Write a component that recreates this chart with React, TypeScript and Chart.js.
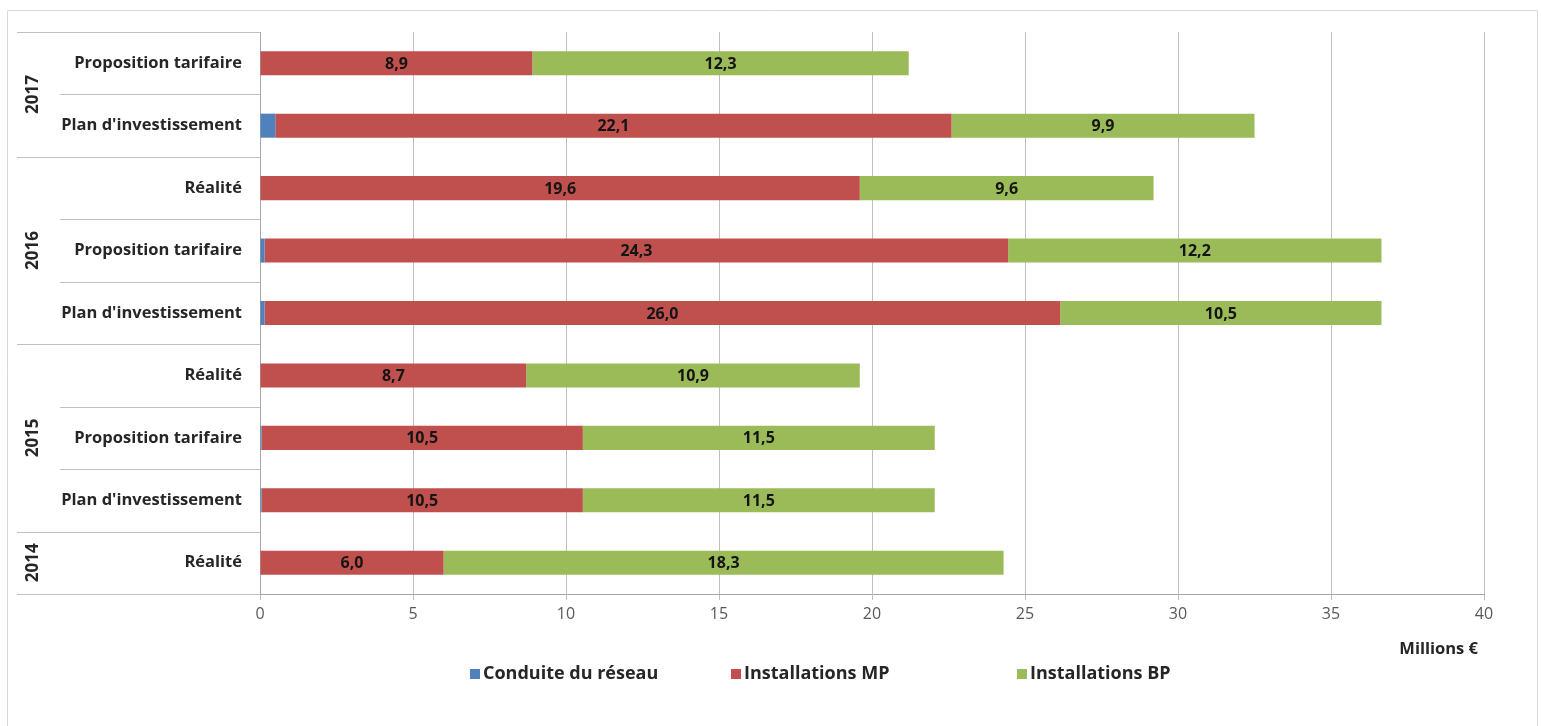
import React, { useEffect, useRef } from "react";
import { Chart, registerables } from "chart.js";

Chart.register(...registerables);

// ---- Data ----
const categories = [
  "Proposition tarifaire",
  "Plan d'investissement",
  "Réalité",
  "Proposition tarifaire",
  "Plan d'investissement",
  "Réalité",
  "Proposition tarifaire",
  "Plan d'investissement",
  "Réalité",
];
const years = ["2017", "2017", "2016", "2016", "2016", "2015", "2015", "2015", "2014"];
const conduiteReseau = [0, 0.5, 0, 0.15, 0.15, 0, 0.05, 0.05, 0];
const installationsMP = [8.9, 22.1, 19.6, 24.3, 26.0, 8.7, 10.5, 10.5, 6.0];
const installationsBP = [12.3, 9.9, 9.6, 12.2, 10.5, 10.9, 11.5, 11.5, 18.3];
const seriesNames = ["Conduite du réseau", "Installations MP", "Installations BP"];
const seriesColors = ["#4F81BD", "#C0504D", "#9BBB59"];
const xMin = 0;
const xMax = 40;
const xStep = 5;
const xTitle = "Millions €";

const FONT = "'Open Sans', Lato, 'DejaVu Sans', sans-serif";
const GRID = "#BFBFBF";
const AXIS = "#A6A6A6";

const framePlugin = {
  id: "frame",
  beforeDraw(chart: any) {
    const ctx = chart.ctx;
    ctx.save();
    ctx.fillStyle = "#ffffff";
    ctx.fillRect(0, 0, chart.width, chart.height);
    ctx.strokeStyle = "#D9D9D9";
    ctx.lineWidth = 1;
    ctx.beginPath();
    ctx.moveTo(7.5, chart.height);
    ctx.lineTo(7.5, 10.5);
    ctx.lineTo(1537.5, 10.5);
    ctx.lineTo(1537.5, chart.height);
    ctx.stroke();
    ctx.restore();
  },
};

const groupPlugin = {
  id: "groups",
  afterDraw(chart: any) {
    const ctx = chart.ctx;
    const y = chart.scales.y;
    const area = chart.chartArea;
    const outerLeft = 17;
    const innerLeft = 60;
    const right = area.left;
    ctx.save();
    ctx.strokeStyle = GRID;
    ctx.lineWidth = 1;
    const hline = (x0: number, yy: number) => {
      const py = Math.round(yy) + 0.5;
      ctx.beginPath();
      ctx.moveTo(x0, py);
      ctx.lineTo(right, py);
      ctx.stroke();
    };
    hline(outerLeft, area.top);
    hline(outerLeft, area.bottom);
    for (let i = 0; i < categories.length - 1; i++) {
      const yb = (y.getPixelForValue(i) + y.getPixelForValue(i + 1)) / 2;
      hline(years[i] !== years[i + 1] ? outerLeft : innerLeft, yb);
    }
    // year labels
    ctx.fillStyle = "#262626";
    ctx.font = `bold 17px ${FONT}`;
    ctx.textAlign = "center";
    ctx.textBaseline = "middle";
    let start = 0;
    for (let i = 1; i <= years.length; i++) {
      if (i === years.length || years[i] !== years[start]) {
        const cy = (y.getPixelForValue(start) + y.getPixelForValue(i - 1)) / 2;
        ctx.save();
        ctx.translate(33, cy);
        ctx.rotate(-Math.PI / 2);
        ctx.fillText(years[start], 0, 0);
        ctx.restore();
        start = i;
      }
    }
    // axis title
    ctx.font = `bold 16.5px ${FONT}`;
    ctx.textAlign = "right";
    ctx.fillText(xTitle, area.right - 6, 649);
    ctx.restore();
  },
};

const labelPlugin = {
  id: "barLabels",
  afterDatasetsDraw(chart: any) {
    const ctx = chart.ctx;
    ctx.save();
    ctx.font = `bold 16px ${FONT}`;
    ctx.fillStyle = "#141414";
    ctx.textAlign = "center";
    ctx.textBaseline = "middle";
    [1, 2].forEach((di) => {
      const meta = chart.getDatasetMeta(di);
      meta.data.forEach((bar: any, i: number) => {
        const v = chart.data.datasets[di].data[i] as number;
        if (!v) return;
        const { x, base, y } = bar.getProps(["x", "base", "y"], true);
        ctx.fillText(v.toFixed(1).replace(".", ","), (x + base) / 2, y + 1);
      });
    });
    ctx.restore();
  },
};

const legendPlugin = {
  id: "customLegend",
  afterDraw(chart: any) {
    const ctx = chart.ctx;
    ctx.save();
    ctx.font = `bold 18px ${FONT}`;
    ctx.textBaseline = "middle";
    ctx.textAlign = "left";
    const cy = 674;
    const box = 10;
    const boxGap = 3;
    const starts = [470, 731, 1017];
    seriesNames.forEach((n, i) => {
      const x = starts[i];
      ctx.fillStyle = seriesColors[i];
      ctx.fillRect(x, cy - box / 2, box, box);
      ctx.fillStyle = "#262626";
      ctx.fillText(n, x + box + boxGap, cy);
    });
    ctx.restore();
  },
};

export default function App() {
  const canvasRef = useRef<HTMLCanvasElement | null>(null);

  useEffect(() => {
    if (!canvasRef.current) return;
    const datasets = [conduiteReseau, installationsMP, installationsBP].map((d, i) => ({
      label: seriesNames[i],
      data: d,
      backgroundColor: seriesColors[i],
      borderWidth: 0,
      barPercentage: 0.385,
      categoryPercentage: 1,
    }));
    const chart = new Chart(canvasRef.current, {
      type: "bar",
      data: { labels: categories, datasets },
      plugins: [framePlugin, groupPlugin, labelPlugin, legendPlugin],
      options: {
        indexAxis: "y",
        responsive: false,
        animation: false,
        layout: { padding: { left: 0, right: 57, top: 32, bottom: 65 } },
        plugins: {
          legend: { display: false },
          tooltip: { enabled: false },
          title: { display: false },
        },
        scales: {
          x: {
            stacked: true,
            min: xMin,
            max: xMax,
            ticks: {
              stepSize: xStep,
              color: "#595959",
              font: { family: FONT, size: 16 },
              padding: 5,
            },
            grid: { color: GRID, tickLength: 6, drawTicks: true },
            border: { display: true, color: AXIS },
            title: { display: false },
            afterFit: (s: any) => {
              s.height = 67;
            },
          },
          y: {
            stacked: true,
            grid: { display: false, drawTicks: false },
            border: { display: true, color: AXIS },
            ticks: {
              color: "#262626",
              font: { family: FONT, size: 16.5, weight: "bold" },
              padding: 18,
            },
            afterFit: (s: any) => {
              s.width = 260;
            },
          },
        },
      } as any,
    });
    return () => chart.destroy();
  }, []);

  return (
    <div
      style={{
        position: "fixed",
        left: 0,
        top: 0,
        width: 1541,
        height: 726,
        background: "#ffffff",
      }}
    >
      <canvas ref={canvasRef} width={1541} height={726} style={{ display: "block" }} />
    </div>
  );
}
